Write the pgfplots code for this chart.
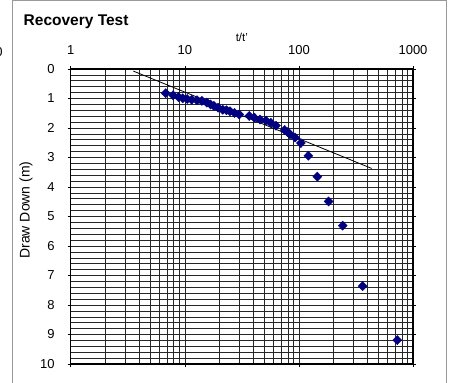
\documentclass[border=0pt]{standalone}
\usepackage{fontspec}
\setmainfont{Liberation Sans}
\usepackage{pgfplots}
\pgfplotsset{compat=1.18}
\definecolor{navy}{HTML}{000080}
\begin{document}
\begin{tikzpicture}[x=1pt,y=1pt]
\useasboundingbox (0,0) rectangle (454,382);
\draw[color=black!40, line width=1.2pt] (12.5,-5) -- (12.5,381.4) -- (446.5,381.4) -- (446.5,-5);
\node[font=\fontsize{13}{15}\selectfont, anchor=base] at (-1,325) {0};
\node[font=\bfseries\fontsize{15.5}{18}\selectfont, anchor=base west, inner sep=0pt] at (23.5,356) {Recovery Test};
\node[font=\fontsize{14}{16}\selectfont, rotate=90, inner sep=0pt] at (26,172) {Draw Down (m)};
\begin{axis}[
  at={(70.7pt,18pt)}, anchor=south west,
  scale only axis, width=342.3pt, height=295pt,
  xmode=log, xmin=1, xmax=1000,
  ymin=0, ymax=10, y dir=reverse,
  xtick={1,10,100,1000}, xticklabels={1,10,100,1000},
  ytick={0,1,2,3,4,5,6,7,8,9,10},
  minor y tick num=4,
  xticklabel pos=upper,
  tick align=outside,
  major tick length=3pt, minor tick length=0pt,
  tick style={black, line width=0.6pt},
  grid=both,
  major grid style={black!85, line width=0.6pt},
  minor grid style={black!85, line width=0.6pt},
  axis line style={black, line width=1.3pt},
  /pgf/number format/assume math mode=true,
  ticklabel style={font=\fontsize{13}{15}\selectfont},
  xticklabel style={anchor=base, inner sep=0pt, yshift=11.7pt},
  yticklabel style={anchor=east, inner sep=0pt, xshift=-13pt},
  xlabel={t/t'},
  xlabel style={font=\fontsize{11.5}{13}\selectfont, at={(axis description cs:0.5,1)}, anchor=base, inner sep=0pt, yshift=27.5pt},
  clip=false,
]
\addplot[black, line width=0.8pt, no marks] coordinates {(3.54,0.07) (434,3.37)};
\addplot[only marks, mark=diamond*, mark size=4.6pt, mark options={navy, fill=navy, xscale=1.3}] coordinates {
(6.8,0.82)(7.9,0.89)(8.8,0.95)(9.6,0.99)(10.5,1.02)(11.5,1.04)(12.8,1.06)(14.1,1.08)
(15.6,1.14)(16.8,1.20)(18.0,1.25)(19.6,1.31)(21.5,1.38)(23.2,1.40)(24.9,1.43)(27.3,1.49)
(30.0,1.54)(36.7,1.59)(40.7,1.65)(45.6,1.71)(51.5,1.75)(56.6,1.82)(63.0,1.92)(75.1,2.07)
(79.5,2.14)(83.6,2.21)(92.5,2.32)(104,2.51)(121,2.94)(145,3.65)(182,4.49)(242,5.31)
(362,7.36)(728,9.19)
};
\end{axis}
\end{tikzpicture}
\end{document}
